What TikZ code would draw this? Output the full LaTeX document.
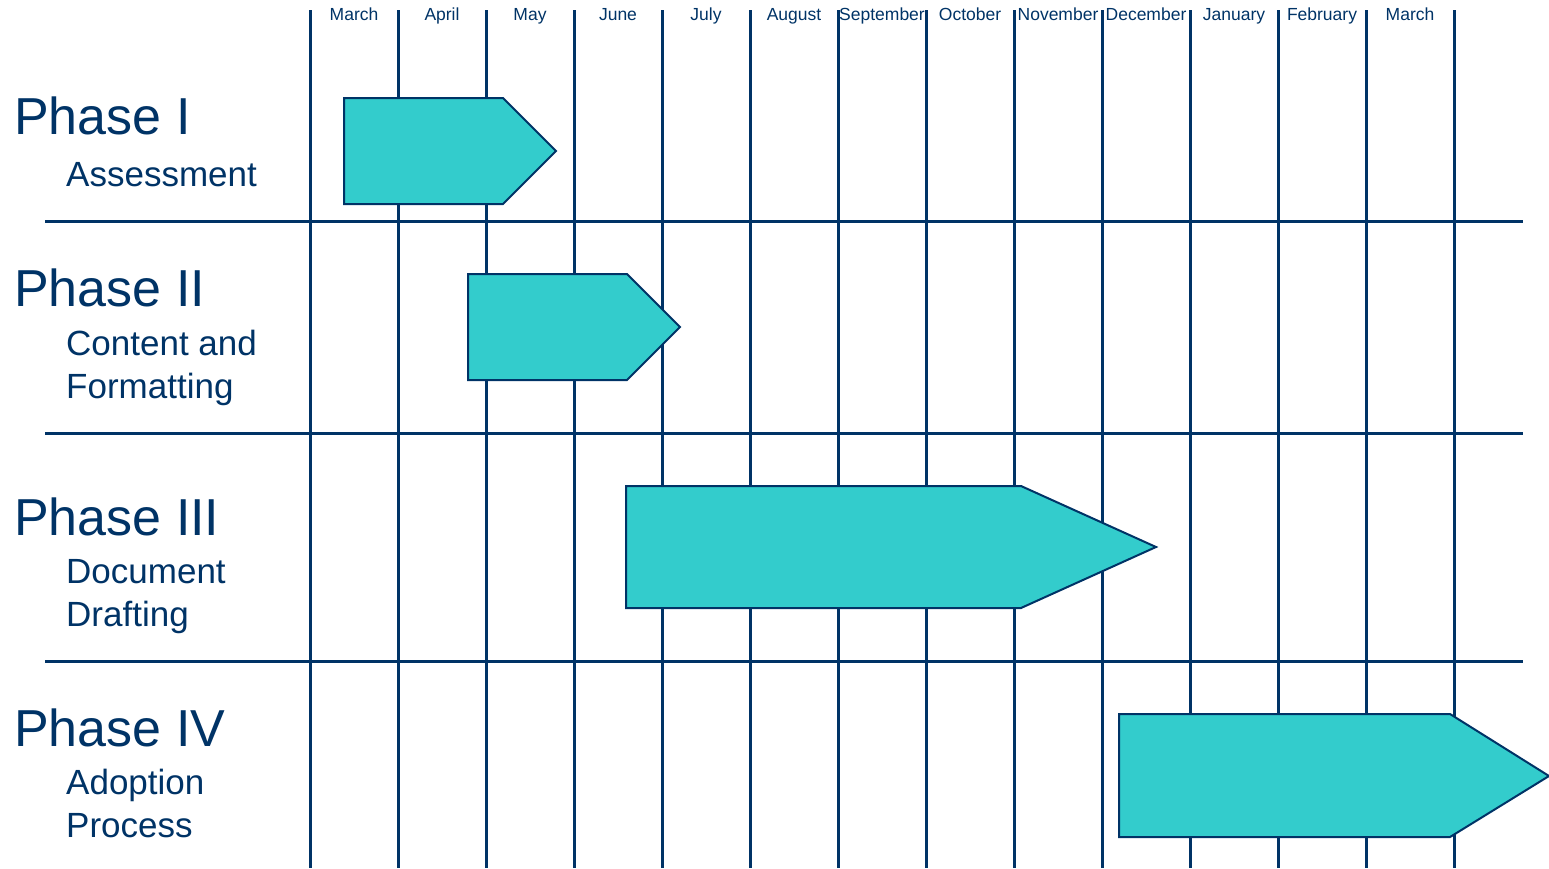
\documentclass[tikz,border=0pt]{standalone}
\usepackage{fontspec}
\setmainfont{Liberation Sans}
\usepackage{xcolor}
\usepackage{tikz}
\usetikzlibrary{positioning}
\definecolor{gridNavy}{HTML}{003366}
\definecolor{barTeal}{HTML}{33CCCC}

\begin{document}
\begin{tikzpicture}[x=1pt, y=-1pt,
    every node/.style={text=gridNavy, inner sep=0pt},
    month/.style={
        font=\fontsize{17.5}{20}\selectfont,
        anchor=base,
    },
    phase/.style={
        font=\fontsize{52}{60}\selectfont,
        anchor=base west,
    },
    phasesub/.style={
        font=\fontsize{35}{43}\selectfont,
        anchor=base west, align=left,
    },
    gridline/.style={
        draw=gridNavy, line width=3pt,
    },
    bar/.style={
        draw=gridNavy, line width=2pt, fill=barTeal, line join=miter,
    },
]

\useasboundingbox (0,0) rectangle (1549,868);

% ── Month header ──────────────────────────────────────────────────────
\def\firstX{310}
\def\colW{88}
\def\gridTop{10}
\def\gridBot{868}

\node[month] (m1)  at (\firstX+0.5*\colW, 20)  {March};
\node[month] (m2)  at (\firstX+1.5*\colW, 20)  {April};
\node[month] (m3)  at (\firstX+2.5*\colW, 20)  {May};
\node[month] (m4)  at (\firstX+3.5*\colW, 20)  {June};
\node[month] (m5)  at (\firstX+4.5*\colW, 20)  {July};
\node[month] (m6)  at (\firstX+5.5*\colW, 20)  {August};
\node[month] (m7)  at (\firstX+6.5*\colW, 20)  {September};
\node[month] (m8)  at (\firstX+7.5*\colW, 20)  {October};
\node[month] (m9)  at (\firstX+8.5*\colW, 20)  {November};
\node[month] (m10) at (\firstX+9.5*\colW, 20)  {December};
\node[month] (m11) at (\firstX+10.5*\colW, 20) {January};
\node[month] (m12) at (\firstX+11.5*\colW, 20) {February};
\node[month] (m13) at (\firstX+12.5*\colW, 20) {March};

% ── Grid ──────────────────────────────────────────────────────────────
\draw[gridline] (\firstX+0*\colW, \gridTop)  -- (\firstX+0*\colW, \gridBot);
\draw[gridline] (\firstX+1*\colW, \gridTop)  -- (\firstX+1*\colW, \gridBot);
\draw[gridline] (\firstX+2*\colW, \gridTop)  -- (\firstX+2*\colW, \gridBot);
\draw[gridline] (\firstX+3*\colW, \gridTop)  -- (\firstX+3*\colW, \gridBot);
\draw[gridline] (\firstX+4*\colW, \gridTop)  -- (\firstX+4*\colW, \gridBot);
\draw[gridline] (\firstX+5*\colW, \gridTop)  -- (\firstX+5*\colW, \gridBot);
\draw[gridline] (\firstX+6*\colW, \gridTop)  -- (\firstX+6*\colW, \gridBot);
\draw[gridline] (\firstX+7*\colW, \gridTop)  -- (\firstX+7*\colW, \gridBot);
\draw[gridline] (\firstX+8*\colW, \gridTop)  -- (\firstX+8*\colW, \gridBot);
\draw[gridline] (\firstX+9*\colW, \gridTop)  -- (\firstX+9*\colW, \gridBot);
\draw[gridline] (\firstX+10*\colW, \gridTop) -- (\firstX+10*\colW, \gridBot);
\draw[gridline] (\firstX+11*\colW, \gridTop) -- (\firstX+11*\colW, \gridBot);
\draw[gridline] (\firstX+12*\colW, \gridTop) -- (\firstX+12*\colW, \gridBot);
\draw[gridline] (\firstX+13*\colW, \gridTop) -- (\firstX+13*\colW, \gridBot);

\draw[gridline] (45, 221) -- (1523, 221);
\draw[gridline] (45, 433) -- (1523, 433);
\draw[gridline] (45, 661) -- (1523, 661);

% ── Phase I ───────────────────────────────────────────────────────────
\node[phase]    (p1)    at (14, 134) {Phase I};
\node[phasesub] (p1sub) at (66, 186) {Assessment};
\draw[bar] (344, 98) -- (503, 98) -- (556, 151) -- (503, 204) -- (344, 204) -- cycle;

% ── Phase II ──────────────────────────────────────────────────────────
\node[phase]    (p2)    at (14, 306) {Phase II};
\node[phasesub] (p2sub) at (66, 398) {Content and\\Formatting};
\draw[bar] (468, 274) -- (627, 274) -- (680, 327) -- (627, 380) -- (468, 380) -- cycle;

% ── Phase III ─────────────────────────────────────────────────────────
\node[phase]    (p3)    at (14, 535) {Phase III};
\node[phasesub] (p3sub) at (66, 626) {Document\\Drafting};
\draw[bar] (626, 486) -- (1021, 486) -- (1156, 547) -- (1021, 608) -- (626, 608) -- cycle;

% ── Phase IV ──────────────────────────────────────────────────────────
\node[phase]    (p4)    at (14, 746) {Phase IV};
\node[phasesub] (p4sub) at (66, 837) {Adoption\\Process};
\draw[bar] (1119, 714) -- (1450, 714) -- (1549, 776) -- (1450, 837) -- (1119, 837) -- cycle;

\end{tikzpicture}
\end{document}
